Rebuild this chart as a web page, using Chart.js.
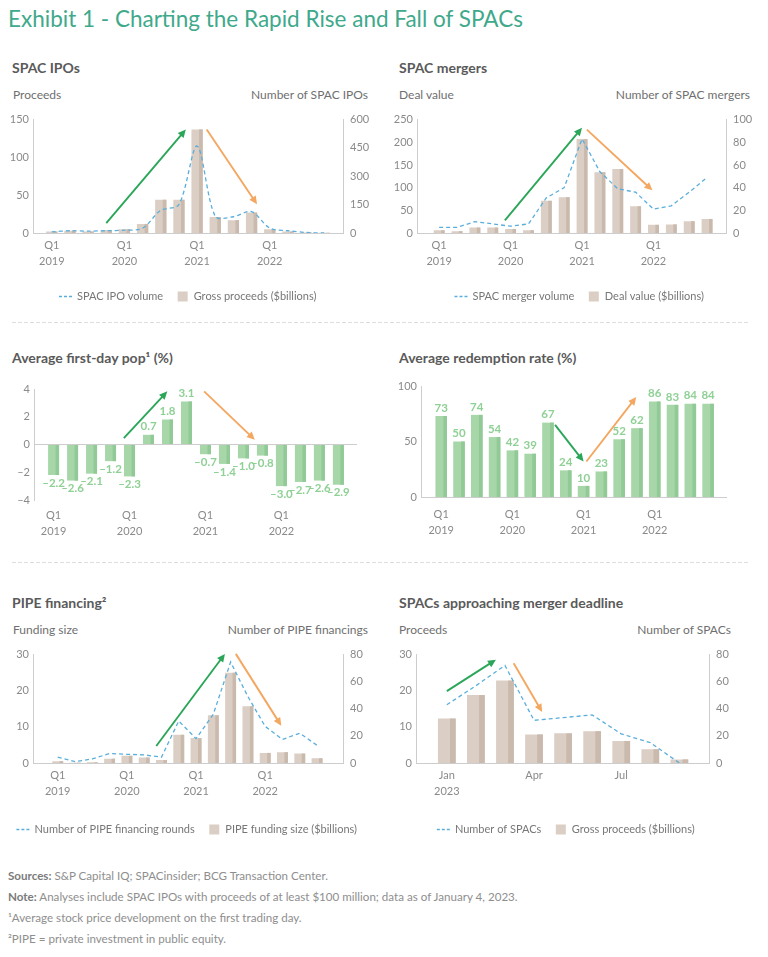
<!DOCTYPE html>
<html>
<head>
<meta charset="utf-8">
<title>Exhibit 1 - Charting the Rapid Rise and Fall of SPACs</title>
<script src="https://cdn.jsdelivr.net/npm/chart.js@4.4.1/dist/chart.umd.min.js"></script>
<style>
  body { margin: 0; background: #fff; font-family: Lato, "Open Sans", sans-serif; }
  #page { position: relative; width: 768px; height: 957px; overflow: hidden; background: #fff; }
  #page > div { position: absolute; white-space: nowrap; }
  .exhibit { left: 8px; top: 8px; font-size: 22.5px; line-height: 22.5px; color: #3fa98b; }
  .ptitle { font-size: 14px; line-height: 14px; font-weight: 700; color: #5a5a5a; }
  .axhead { font-size: 12px; line-height: 12px; color: #6f6f6f; }
  .sep { left: 12px; width: 738px; height: 1px; background: repeating-linear-gradient(to right, #dedede 0 4px, transparent 4px 6px); }
  .foot { left: 8px; font-size: 11.6px; line-height: 21px; color: #8e8e8e; }
  .foot b { color: #7b7b7b; }
</style>
</head>
<body>
<div id="page">
  <div class="exhibit">Exhibit 1 - Charting the Rapid Rise and Fall of SPACs</div>

  <div class="ptitle" style="left:12px;top:61px">SPAC IPOs</div>
  <div class="axhead" style="left:13px;top:89px">Proceeds</div>
  <div class="axhead" style="right:400px;top:89px">Number of SPAC IPOs</div>
  <div class="box" style="left:0;top:106px;width:377px;height:206px"><canvas id="ipoChart"></canvas></div>

  <div class="ptitle" style="left:399px;top:61px">SPAC mergers</div>
  <div class="axhead" style="left:399px;top:89px">Deal value</div>
  <div class="axhead" style="right:18px;top:89px">Number of SPAC mergers</div>
  <div class="box" style="left:392px;top:106px;width:376px;height:206px"><canvas id="mergerChart"></canvas></div>

  <div class="sep" style="top:322px"></div>

  <div class="ptitle" style="left:12px;top:351px">Average first-day pop¹ (%)</div>
  <div class="box" style="left:0;top:378px;width:384px;height:160px"><canvas id="popChart"></canvas></div>

  <div class="ptitle" style="left:399px;top:351px">Average redemption rate (%)</div>
  <div class="box" style="left:384px;top:375px;width:384px;height:165px"><canvas id="redemptionChart"></canvas></div>

  <div class="sep" style="top:562px"></div>

  <div class="ptitle" style="left:12px;top:596px">PIPE financing²</div>
  <div class="axhead" style="left:13px;top:624px">Funding size</div>
  <div class="axhead" style="right:400px;top:624px">Number of PIPE financings</div>
  <div class="box" style="left:0;top:641px;width:375px;height:204px"><canvas id="pipeChart"></canvas></div>

  <div class="ptitle" style="left:399px;top:596px">SPACs approaching merger deadline</div>
  <div class="axhead" style="left:399px;top:624px">Proceeds</div>
  <div class="axhead" style="right:37px;top:624px">Number of SPACs</div>
  <div class="box" style="left:384px;top:641px;width:365px;height:204px"><canvas id="deadlineChart"></canvas></div>

  <div class="foot" style="top:865px"><b>Sources:</b> S&amp;P Capital IQ; SPACinsider; BCG Transaction Center.</div>
  <div class="foot" style="top:886px"><b>Note:</b> Analyses include SPAC IPOs with proceeds of at least $100 million; data as of January 4, 2023.</div>
  <div class="foot" style="top:907px">¹Average stock price development on the first trading day.</div>
  <div class="foot" style="top:928px">²PIPE = private investment in public equity.</div>
</div>

<script>
const quarters = ['Q1 2019', 'Q2 2019', 'Q3 2019', 'Q4 2019', 'Q1 2020', 'Q2 2020', 'Q3 2020', 'Q4 2020',
                  'Q1 2021', 'Q2 2021', 'Q3 2021', 'Q4 2021', 'Q1 2022', 'Q2 2022', 'Q3 2022', 'Q4 2022'];
const months2023 = ['Jan 2023', 'Feb 2023', 'Mar 2023', 'Apr 2023', 'May 2023', 'Jun 2023', 'Jul 2023', 'Aug 2023', 'Sep 2023'];
const labelledMonths = ['Jan', 'Apr', 'Jul'];

const ipoProceeds = [2, 3, 2, 4, 5, 12, 44, 44, 137, 21, 17, 27, 5, 2, 0.6, 0.3];
const ipoCount = [6, 12, 10, 12, 15, 25, 120, 150, 460, 88, 86, 113, 26, 12, 3, 0];

const mergerValue = [6, 4, 12, 12, 9, 6, 71, 79, 207, 134, 141, 59, 18, 19, 26, 31];
const mergerCount = [5, 5, 10, 8, 6, 8, 31, 40, 83, 54, 39, 36, 21, 24, 36, 49];

const firstDayPop = [-2.2, -2.6, -2.1, -1.2, -2.3, 0.7, 1.8, 3.1, -0.7, -1.4, -1.0, -0.8, -3.0, -2.7, -2.6, -2.9];
const redemptionRate = [73, 50, 74, 54, 42, 39, 67, 24, 10, 23, 52, 62, 86, 83, 84, 84];

const pipeFunding = [0.5, 0.1, 0.2, 1.2, 2.0, 1.5, 0.8, 7.8, 6.9, 13.2, 25.0, 15.7, 2.8, 3.0, 2.6, 1.3];
const pipeRounds = [4.3, 1, 3, 7, 6.4, 6, 4.3, 31, 18, 36, 74.5, 49, 27, 17.4, 22, 13];

const deadlineProceeds = [12.3, 18.8, 22.8, 7.9, 8.2, 8.8, 6.1, 3.8, 1.0];
const deadlineCount = [43, 57, 72, 31.5, 33.5, 35.5, 21.5, 15, 0];

// ---- styling ----
Chart.defaults.font.family = 'Lato, "Open Sans", sans-serif';
Chart.defaults.animation = false;

const AXIS_GRAY = '#cdcdcd';
const TICK_GRAY = '#8a8a8a';
const BEIGE = '#dbcec4', BEIGE_DARK = '#cab9ad';
const GREEN = '#a7d7a9', GREEN_DARK = '#91ca96';
const LABEL_GREEN = '#8fd095';
const LINE_BLUE = '#5aaedb';
const ARROW_GREEN = '#2ba659', ARROW_ORANGE = '#f4a760';

const quarterTick = v => {
    const q = quarters[v];
    if (!q) return '';
    const [qq, yr] = q.split(' ');
    return qq === 'Q1' ? [qq, yr] : '';
};
const monthTick = v => {
    const m = months2023[v];
    if (!m) return '';
    const [mon, yr] = m.split(' ');
    if (!labelledMonths.includes(mon)) return '';
    return v === 0 ? [mon, yr] : mon;
};
const dash = (v, d) => (v < 0 ? '\u2013' : '') + Math.abs(v).toFixed(d);

// darker strip on the right side of each bar
const barShade = {
    id: 'barShade',
    afterDatasetDraw(chart, args, opts) {
        if (args.meta.type !== 'bar' || !opts.color) return;
        const ctx = chart.ctx;
        ctx.save();
        ctx.fillStyle = opts.color;
        args.meta.data.forEach(bar => {
            const {x, y, base, width} = bar.getProps(['x', 'y', 'base', 'width'], true);
            const w = width * 0.32;
            ctx.fillRect(x + width / 2 - w, Math.min(y, base), w, Math.abs(base - y));
        });
        ctx.restore();
    }
};

// trend arrows, given in data units
const trendArrows = {
    id: 'trendArrows',
    afterDatasetsDraw(chart, args, opts) {
        const {ctx, scales} = chart;
        (opts.items || []).forEach(a => {
            const ys = scales[a.axis || 'y'];
            const x1 = scales.x.getPixelForValue(a.from[0]), y1 = ys.getPixelForValue(a.from[1]);
            const x2 = scales.x.getPixelForValue(a.to[0]), y2 = ys.getPixelForValue(a.to[1]);
            const ang = Math.atan2(y2 - y1, x2 - x1);
            const hl = 8, hw = 3.8;
            ctx.save();
            ctx.strokeStyle = a.color;
            ctx.fillStyle = a.color;
            ctx.lineWidth = 1.9;
            ctx.beginPath();
            ctx.moveTo(x1, y1);
            ctx.lineTo(x2 - Math.cos(ang) * hl * 0.8, y2 - Math.sin(ang) * hl * 0.8);
            ctx.stroke();
            ctx.translate(x2, y2);
            ctx.rotate(ang);
            ctx.beginPath();
            ctx.moveTo(0, 0);
            ctx.lineTo(-hl, -hw);
            ctx.lineTo(-hl, hw);
            ctx.closePath();
            ctx.fill();
            ctx.restore();
        });
    }
};

// value labels above / below bars
const valueLabels = {
    id: 'valueLabels',
    afterDatasetsDraw(chart, args, opts) {
        if (!opts.enabled) return;
        const ctx = chart.ctx;
        const idx = chart.data.datasets.findIndex(d => d.type === 'bar');
        const meta = chart.getDatasetMeta(idx);
        const values = chart.data.datasets[idx].data;
        ctx.save();
        ctx.font = `bold ${opts.size}px Lato, sans-serif`;
        ctx.fillStyle = opts.color;
        ctx.textAlign = 'center';
        ctx.textBaseline = 'middle';
        meta.data.forEach((bar, i) => {
            const v = values[i].y;
            ctx.fillText(dash(v, opts.decimals), bar.x, v >= 0 ? bar.y - opts.offset : bar.y + opts.offset);
        });
        ctx.restore();
    }
};

const legendItems = chart => chart.data.datasets.map((ds, i) => {
    const isLine = ds.type === 'line';
    return {
        text: ds.label,
        fillStyle: isLine ? 'rgba(0,0,0,0)' : ds.backgroundColor,
        strokeStyle: isLine ? ds.borderColor : 'rgba(0,0,0,0)',
        lineWidth: isLine ? 1.3 : 0,
        lineDash: isLine ? [3, 2] : [],
        pointStyle: isLine ? 'line' : 'rect',
        fontColor: '#777',
        hidden: false,
        datasetIndex: i
    };
});

function makeChart(id, o) {
    const box = document.getElementById(id).parentElement;
    const bx = box.offsetLeft, by = box.offsetTop, bw = box.offsetWidth;
    const plotTop = o.plot.t - by;
    const plotBottom = o.plot.b - by;
    const leftW = o.plot.l - bx;
    const rightW = bx + bw - o.plot.r;
    const n = o.cats.length;

    const datasets = [];
    if (o.line) {
        datasets.push({
            type: 'line', label: o.lineLabel, yAxisID: 'y2', order: 0,
            data: o.line.map((v, i) => ({x: i, y: v})),
            borderColor: LINE_BLUE, borderWidth: 1.3, borderDash: [4, 3],
            pointRadius: 0, tension: o.tension || 0
        });
    }
    datasets.push({
        type: 'bar', label: o.barLabel, yAxisID: 'y', order: 1,
        data: o.bars.map((v, i) => ({x: i, y: v})),
        backgroundColor: o.barColor, borderWidth: 0,
        barPercentage: o.barPct, categoryPercentage: 1
    });

    const scales = {
        x: {
            type: 'linear', min: -o.padL, max: n - 1 + o.padR,
            afterBuildTicks: s => { s.ticks = o.cats.map((_, i) => ({value: i})); },
            afterFit: s => { s.height = s.chart.height - (s.chart.legend ? s.chart.legend.height : 0) - plotBottom; },
            grid: {display: false, drawTicks: false},
            border: {display: o.baseline !== false, color: AXIS_GRAY},
            ticks: {autoSkip: false, maxRotation: 0, padding: o.tickPad, callback: o.tick,
                    color: TICK_GRAY, font: {size: 11, lineHeight: 1.4}}
        },
        y: {
            position: 'left', min: o.y.min || 0, max: o.y.max,
            afterFit: s => { s.width = leftW; },
            grid: o.zeroLine
                ? {drawTicks: false, color: c => (c.tick && c.tick.value === 0 ? AXIS_GRAY : 'rgba(0,0,0,0)')}
                : {display: false, drawTicks: false},
            border: {color: AXIS_GRAY},
            ticks: {stepSize: o.y.step, padding: 4, color: TICK_GRAY, font: {size: 11},
                    callback: v => dash(v, 0)}
        }
    };
    if (o.y2) {
        scales.y2 = {
            position: 'right', min: 0, max: o.y2.max,
            afterFit: s => { s.width = rightW; },
            grid: {display: false, drawTicks: false},
            border: {color: AXIS_GRAY},
            ticks: {stepSize: o.y2.step, padding: 7, color: TICK_GRAY, font: {size: 11}}
        };
    }

    return new Chart(document.getElementById(id), {
        type: 'bar',
        data: {datasets},
        options: {
            responsive: true, maintainAspectRatio: false,
            layout: {padding: {top: plotTop, right: o.y2 ? 0 : rightW, bottom: 0, left: 0}},
            scales,
            plugins: {
                legend: o.line ? {
                    display: true, position: 'bottom',
                    labels: {usePointStyle: true, boxHeight: 10, padding: 14, color: '#777',
                             font: {size: 11}, generateLabels: legendItems}
                } : {display: false},
                tooltip: {enabled: false},
                barShade: {color: o.shade},
                trendArrows: {items: o.arrows},
                valueLabels: o.values || {enabled: false}
            }
        },
        plugins: [barShade, trendArrows, valueLabels]
    });
}

makeChart('ipoChart', {
    plot: {l: 33, t: 117, r: 343, b: 233},
    cats: quarters, tick: quarterTick, padL: 0.5, padR: 0.5, tickPad: 5,
    bars: ipoProceeds, barLabel: 'Gross proceeds ($billions)', barColor: BEIGE, shade: BEIGE_DARK, barPct: 0.62,
    line: ipoCount, lineLabel: 'SPAC IPO volume', tension: 0.3,
    y: {max: 150, step: 50}, y2: {max: 600, step: 150},
    arrows: [
        {from: [3.0, 13], to: [7.38, 137], color: ARROW_GREEN},
        {from: [8.53, 137], to: [11.3, 38], color: ARROW_ORANGE}
    ]
});

makeChart('mergerChart', {
    plot: {l: 417, t: 117, r: 726, b: 233},
    cats: quarters, tick: quarterTick, padL: 0.7, padR: 0.52, tickPad: 5,
    bars: mergerValue, barLabel: 'Deal value ($billions)', barColor: BEIGE, shade: BEIGE_DARK, barPct: 0.61,
    line: mergerCount, lineLabel: 'SPAC merger volume',
    y: {max: 250, step: 50}, y2: {max: 100, step: 20},
    arrows: [
        {from: [3.68, 28], to: [8.0, 232], color: ARROW_GREEN},
        {from: [8.27, 228], to: [11.94, 94], color: ARROW_ORANGE}
    ]
});

makeChart('popChart', {
    plot: {l: 34, t: 389, r: 357, b: 500},
    cats: quarters, tick: quarterTick, padL: 0.5, padR: 0.45, tickPad: 8, baseline: false, zeroLine: true,
    bars: firstDayPop, barLabel: 'Average first-day pop (%)', barColor: GREEN, shade: GREEN_DARK, barPct: 0.58,
    y: {min: -4, max: 4, step: 2},
    values: {enabled: true, decimals: 1, size: 11.5, color: LABEL_GREEN, offset: 8},
    arrows: [
        {from: [3.7, 0.46], to: [5.99, 3.83], color: ARROW_GREEN},
        {from: [7.93, 3.83], to: [10.6, 0.34], color: ARROW_ORANGE}
    ]
});

makeChart('redemptionChart', {
    plot: {l: 421, t: 386, r: 726, b: 497},
    cats: quarters, tick: quarterTick, padL: 0.6, padR: 0.47, tickPad: 10,
    bars: redemptionRate, barLabel: 'Average redemption rate (%)', barColor: GREEN, shade: GREEN_DARK, barPct: 0.65,
    y: {max: 100, step: 50},
    values: {enabled: true, decimals: 0, size: 11.5, color: LABEL_GREEN, offset: 8},
    arrows: [
        {from: [6.4, 65], to: [8.0, 32], color: ARROW_GREEN},
        {from: [8.16, 32], to: [10.96, 90], color: ARROW_ORANGE}
    ]
});

makeChart('pipeChart', {
    plot: {l: 33, t: 652, r: 343, b: 763},
    cats: quarters, tick: quarterTick, padL: 0.87, padR: 0.94, tickPad: 5,
    bars: pipeFunding, barLabel: 'PIPE funding size ($billions)', barColor: BEIGE, shade: BEIGE_DARK, barPct: 0.63,
    line: pipeRounds, lineLabel: 'Number of PIPE financing rounds',
    y: {max: 30, step: 10}, y2: {max: 80, step: 20},
    arrows: [
        {from: [5.7, 4.7], to: [9.67, 30.2], color: ARROW_GREEN},
        {from: [10.3, 30.2], to: [12.93, 10.3], color: ARROW_ORANGE}
    ]
});

makeChart('deadlineChart', {
    plot: {l: 416, t: 652, r: 709, b: 763},
    cats: months2023, tick: monthTick, padL: 0.5, padR: 0.46, tickPad: 5,
    bars: deadlineProceeds, barLabel: 'Gross proceeds ($billions)', barColor: BEIGE, shade: BEIGE_DARK, barPct: 0.61,
    line: deadlineCount, lineLabel: 'Number of SPACs',
    y: {max: 30, step: 10}, y2: {max: 80, step: 20},
    arrows: [
        {from: [0, 19.9], to: [1.69, 28.6], color: ARROW_GREEN},
        {from: [2.3, 27.6], to: [3.28, 14.1], color: ARROW_ORANGE}
    ]
});
</script>
</body>
</html>
